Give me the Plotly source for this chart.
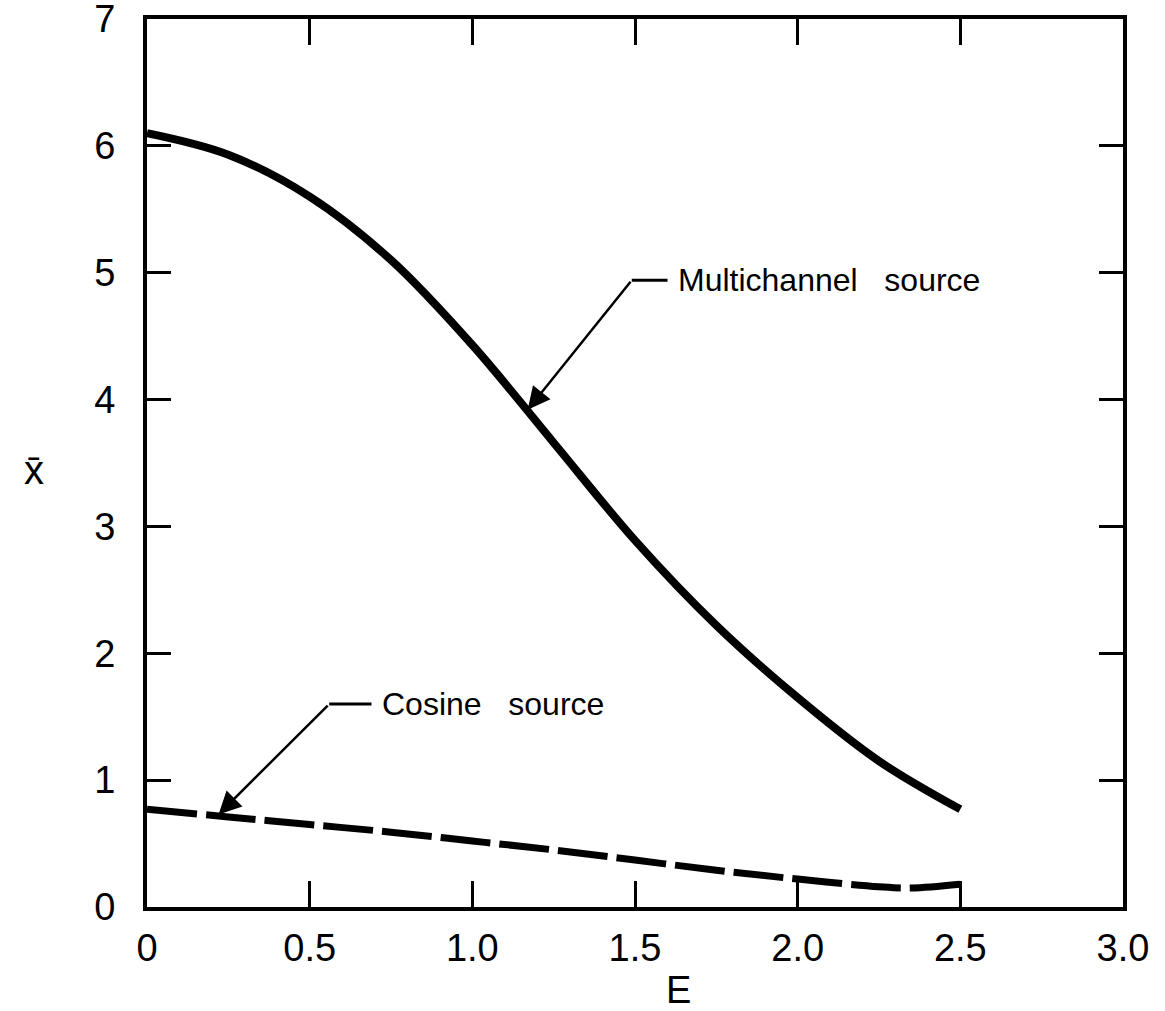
import plotly.graph_objects as go

# Data
E_multi = [0.0, 0.25, 0.5, 0.75, 1.0, 1.25, 1.5, 1.75, 2.0, 2.25, 2.5]
X_multi = [6.10, 5.93, 5.60, 5.10, 4.43, 3.66, 2.89, 2.22, 1.65, 1.15, 0.77]

E_cos = [0.0, 0.25, 0.5, 0.75, 1.0, 1.25, 1.5, 1.75, 2.0, 2.25, 2.35, 2.5]
X_cos = [0.77, 0.71, 0.65, 0.59, 0.52, 0.45, 0.37, 0.29, 0.22, 0.16, 0.15, 0.18]

x_ticks = [0, 0.5, 1.0, 1.5, 2.0, 2.5, 3.0]
x_tick_text = ["0", "0.5", "1.0", "1.5", "2.0", "2.5", "3.0"]
y_ticks = [0, 1, 2, 3, 4, 5, 6, 7]

# Label leader positions (layout)
multi_tip = (1.17, 3.92)
multi_bend = (1.49, 4.94)
multi_line_end = 1.60
multi_text_x = 1.625
cos_tip = (0.22, 0.73)
cos_bend = (0.56, 1.60)
cos_line_end = 0.69
cos_text_x = 0.715

FONT = "Liberation Sans"

fig = go.Figure()
fig.add_trace(go.Scatter(x=E_multi, y=X_multi, mode="lines",
                         line=dict(color="black", width=8, shape="spline"),
                         name="Multichannel source", showlegend=False))
fig.add_trace(go.Scatter(x=E_cos, y=X_cos, mode="lines",
                         line=dict(color="black", width=7, shape="spline", dash="50px,9px"),
                         name="Cosine source", showlegend=False))

for tip, bend, lend, tx, label in [
        (multi_tip, multi_bend, multi_line_end, multi_text_x, "Multichannel\u00a0\u00a0\u00a0source"),
        (cos_tip, cos_bend, cos_line_end, cos_text_x, "Cosine\u00a0\u00a0\u00a0source")]:
    fig.add_annotation(x=tip[0], y=tip[1], ax=bend[0], ay=bend[1], axref="x", ayref="y",
                       xref="x", yref="y", text="", showarrow=True,
                       arrowhead=2, arrowsize=1.8, arrowwidth=2.5, arrowcolor="black")
    fig.add_shape(type="line", x0=bend[0], y0=bend[1], x1=lend, y1=bend[1],
                  xref="x", yref="y", line=dict(color="black", width=3))
    fig.add_annotation(x=tx, y=bend[1], xref="x", yref="y", text=label,
                       showarrow=False, xanchor="left", yanchor="middle",
                       font=dict(family=FONT, size=32, color="black"))

fig.add_annotation(x=-0.128, y=0.492, xref="paper", yref="paper", text="x\u0304",
                   showarrow=False, font=dict(family=FONT, size=40, color="black"))
fig.add_annotation(x=0.545, y=-0.093, xref="paper", yref="paper", text="E",
                   showarrow=False, yanchor="middle",
                   font=dict(family=FONT, size=38, color="black"))

axis_common = dict(showline=True, linecolor="black", linewidth=4, mirror="ticks",
                   ticks="inside", tickwidth=2.5, tickcolor="black", showgrid=False,
                   zeroline=False, ticklabeloverflow="allow", automargin=False,
                   tickfont=dict(family=FONT, size=38, color="black"))

fig.update_xaxes(range=[0, 3], tickvals=x_ticks, ticktext=x_tick_text, ticklen=26,
                 ticklabelstandoff=4, **axis_common)
fig.update_yaxes(range=[0, 7], tickvals=y_ticks, ticklen=24, ticklabelstandoff=20,
                 **axis_common)

fig.update_layout(width=1165, height=1011, plot_bgcolor="white", paper_bgcolor="white",
                  margin=dict(l=147, r=42, t=19, b=104), showlegend=False)

fig.write_html("out.html", config={"displayModeBar": False},
               post_script="document.body.style.margin='0px';")
